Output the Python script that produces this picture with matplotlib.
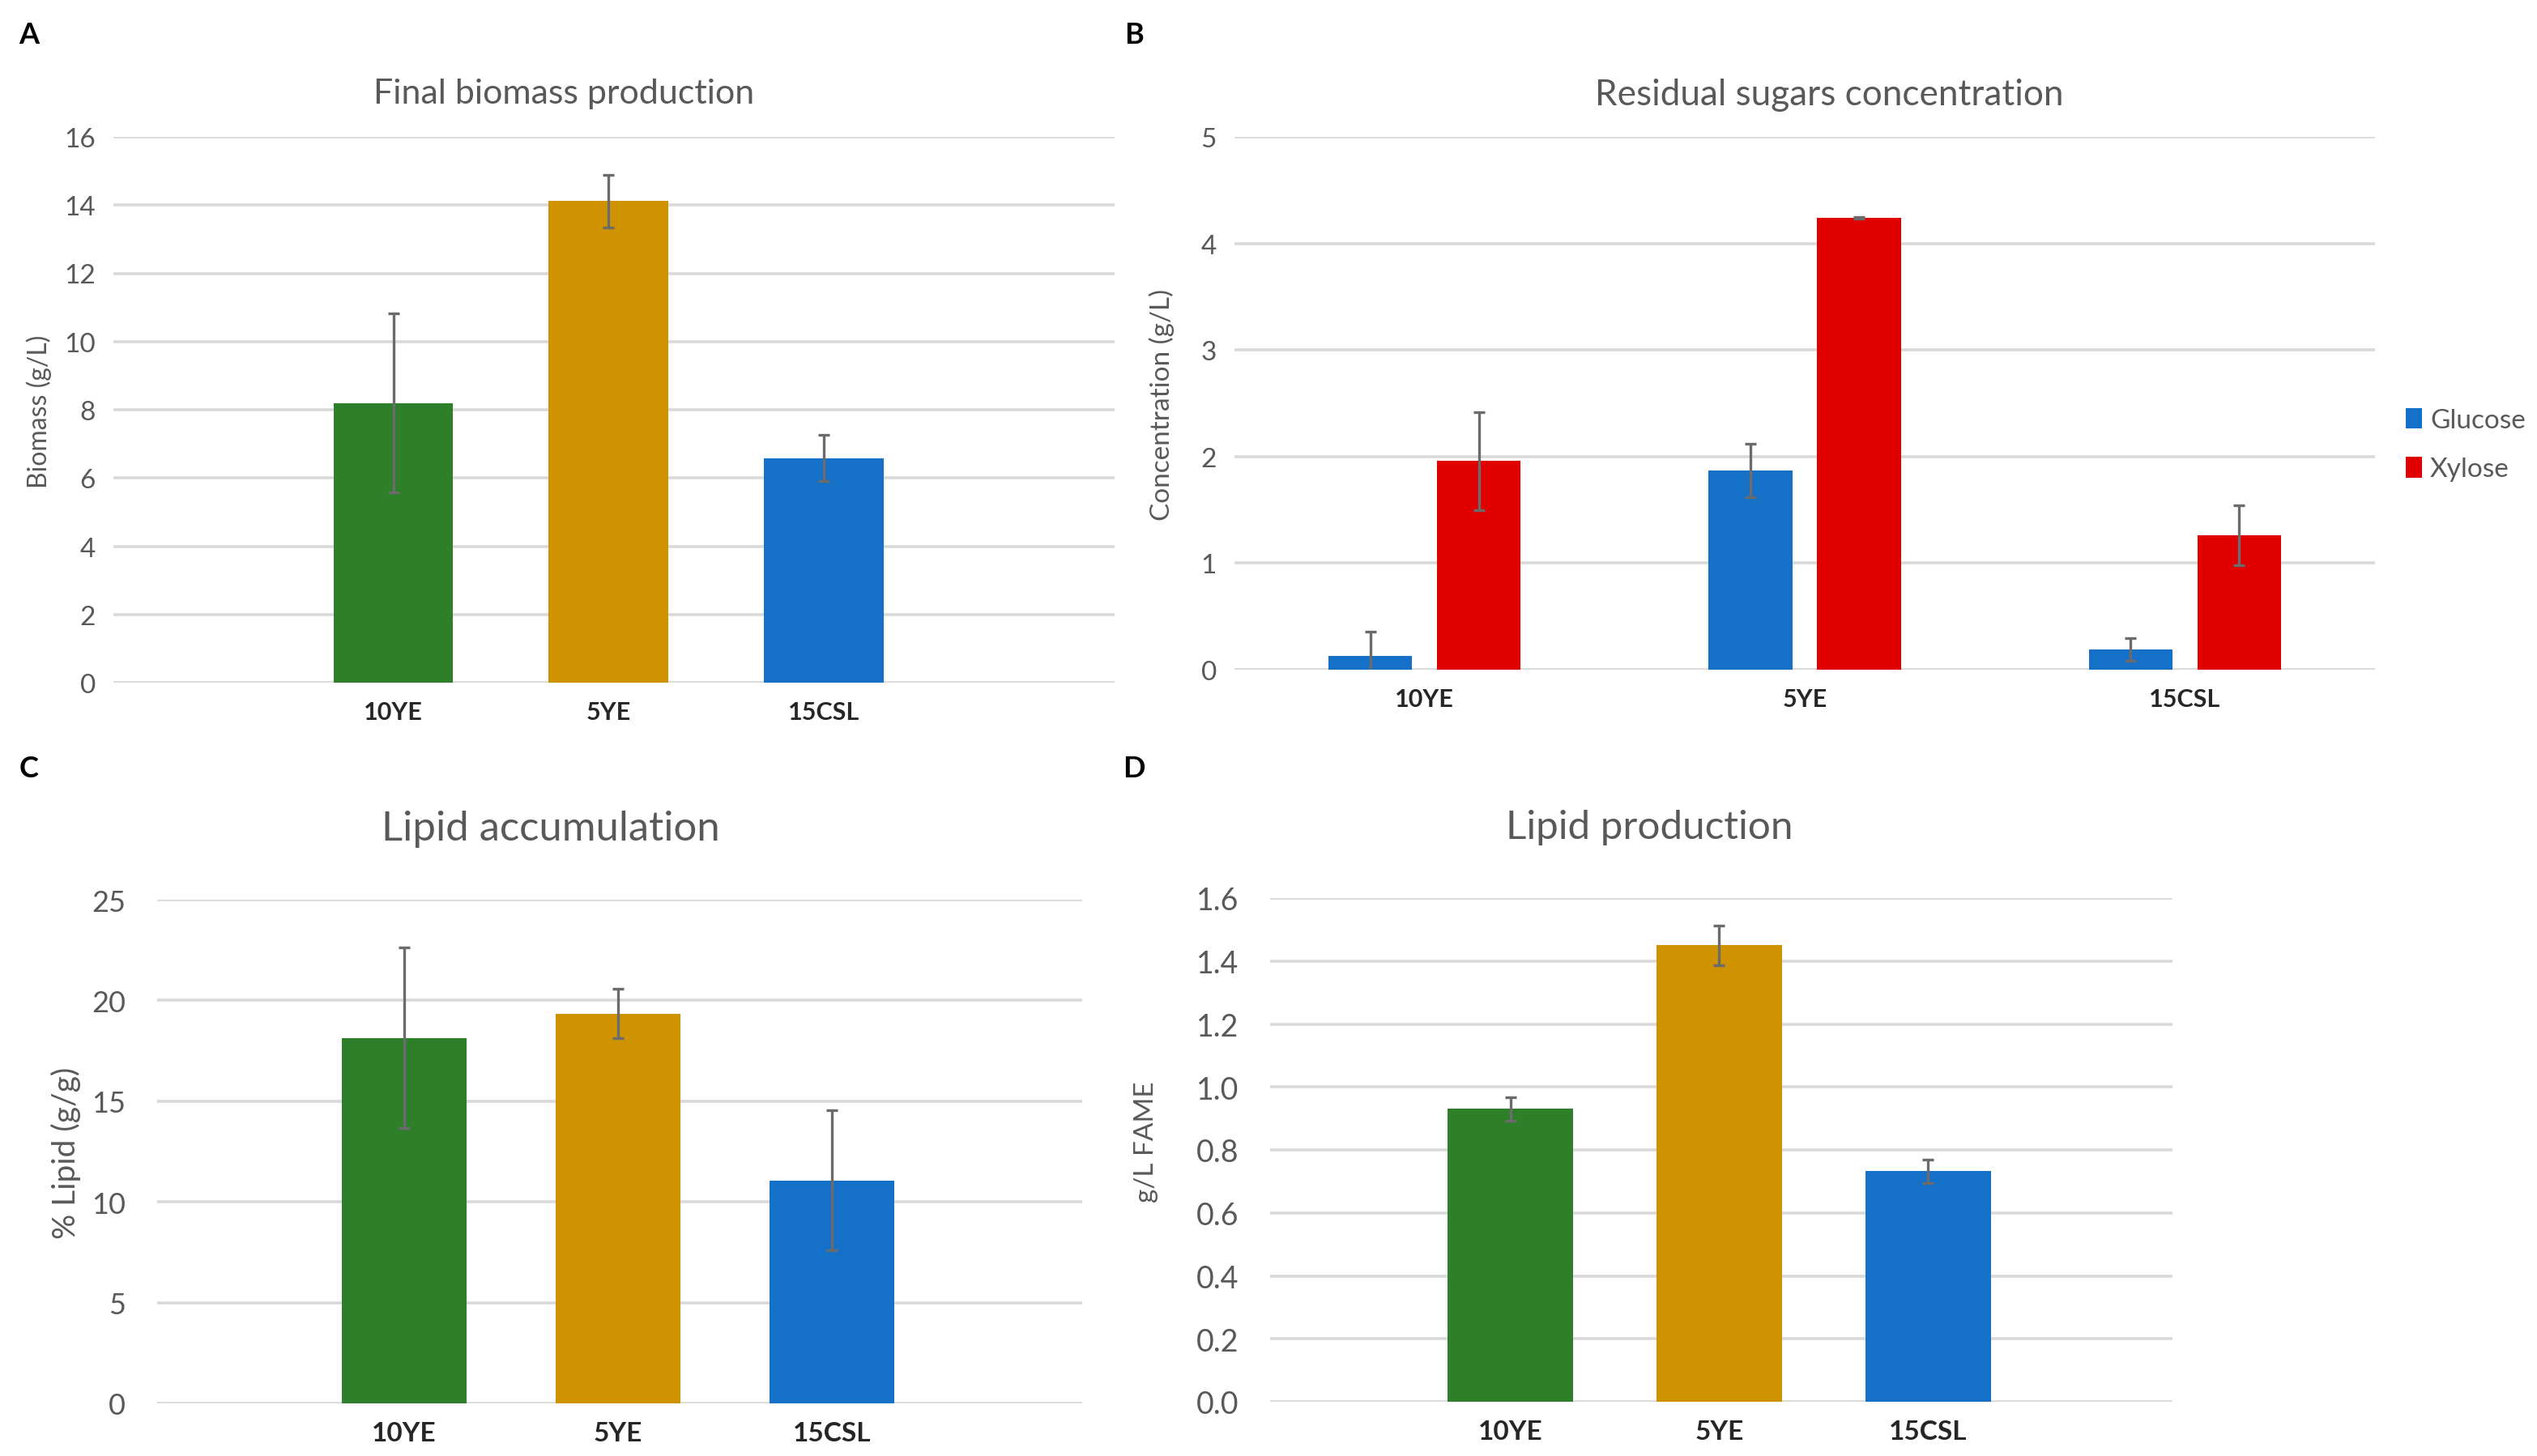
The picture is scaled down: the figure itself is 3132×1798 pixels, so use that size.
import matplotlib.pyplot as plt
import numpy as np

plt.rcParams['font.family'] = ['Lato', 'DejaVu Sans']

# data
strains = ['10YE', '5YE', '15CSL']
bar_colors = ['#2e7f2a', '#cf9200', '#1570c8']

biomass = [8.2, 14.12, 6.58]
biomass_err = [2.62, 0.77, 0.68]

glucose = [0.13, 1.87, 0.19]
glucose_err = [0.23, 0.25, 0.11]
xylose = [1.96, 4.24, 1.26]
xylose_err = [0.46, 0.01, 0.28]

lipid_pct = [18.14, 19.35, 11.07]
lipid_pct_err = [4.47, 1.22, 3.49]

lipid_gl = [0.93, 1.45, 0.732]
lipid_gl_err = [0.037, 0.063, 0.037]

# layout in half-size pixel coords of the original
W, H = 1566, 899.5
def box(x0, y0, x1, y1):
    return [x0 / W, 1 - y1 / H, (x1 - x0) / W, (y1 - y0) / H]

fig = plt.figure(figsize=(15.66, 8.995), dpi=200)
txt = '#595959'
grid = '#d9d9d9'
ecol = '#6b6b6b'

def style(ax, ticks, ylabel, tsize, lsize, xsize, fmt, lab_xy, pad=8):
    ax.set_yticks(ticks)
    ax.set_yticklabels([fmt.format(t) for t in ticks], color=txt, fontsize=tsize)
    ax.set_ylim(ticks[0], ticks[-1])
    ax.yaxis.grid(True, color=grid, linewidth=1.3)
    ax.set_axisbelow(True)
    for s in ax.spines.values():
        s.set_visible(False)
    ax.tick_params(axis='both', length=0, pad=8)
    ax.tick_params(axis='y', pad=pad)
    ax.set_ylabel(ylabel, color=txt, fontsize=lsize)
    ax.yaxis.set_label_coords(lab_xy[0] / W, 1 - lab_xy[1] / H, transform=fig.transFigure)
    ax.set_xticks(range(len(strains)))
    ax.set_xticklabels(strains, fontsize=xsize, fontweight='bold', color='#262626')

def title(s, x, y, size):
    fig.text(x / W, 1 - y / H, s, color=txt, fontsize=size, ha='center', va='center')

ekw = dict(ecolor=ecol, elinewidth=1.2, capsize=2.5, capthick=1.2)

# A
axA = fig.add_axes(box(70, 85, 688, 422))
axA.bar(range(3), biomass, width=0.556, color=bar_colors, yerr=biomass_err, error_kw=ekw)
axA.set_xlim(-1.30, 3.35)
style(axA, list(range(0, 17, 2)), 'Biomass (g/L)', 12, 11.5, 11, '{:d}', (32, 254))
title('Final biomass production', 348, 58, 15.5)

# B
axB = fig.add_axes(box(762, 85, 1466, 414))
x = np.arange(3)
axB.bar(x - 0.143, glucose, width=0.22, color='#1570c8', label='Glucose',
        yerr=glucose_err, error_kw=ekw)
axB.bar(x + 0.143, xylose, width=0.22, color='#e00000', label='Xylose',
        yerr=xylose_err, error_kw=ekw)
axB.set_xlim(-0.5, 2.5)
style(axB, list(range(0, 6)), 'Concentration (g/L)', 12, 12, 11, '{:d}', (725, 250))
title('Residual sugars concentration', 1129, 59, 15.9)
axB.legend(loc='center left', bbox_to_anchor=(1485 / W, 1 - 275 / H),
           bbox_transform=fig.transFigure, frameon=False, borderpad=0, borderaxespad=0,
           fontsize=12, handlelength=0.6, handleheight=0.8, handletextpad=0.3,
           labelcolor=txt, labelspacing=0.9)

# C
axC = fig.add_axes(box(97, 556, 668, 867))
axC.bar(range(3), lipid_pct, width=0.583, color=bar_colors, yerr=lipid_pct_err, error_kw=ekw)
axC.set_xlim(-1.155, 3.17)
style(axC, list(range(0, 26, 5)), '% Lipid (g/g)', 13, 14, 12, '{:d}', (50, 712), pad=14)
title('Lipid accumulation', 340, 512, 18.3)

# D
axD = fig.add_axes(box(784, 555, 1341, 866))
axD.bar(range(3), lipid_gl, width=0.6, color=bar_colors, yerr=lipid_gl_err, error_kw=ekw)
axD.set_xlim(-1.15, 3.17)
style(axD, [round(0.2 * i, 1) for i in range(9)], 'g/L FAME', 13.5, 12, 12, '{:.1f}', (715, 705), pad=14)
title('Lipid production', 1018, 511, 17.8)

# panel letters
for lab, (px, py) in zip('ABCD', [(18, 22), (700, 22), (18, 475), (700, 475)]):
    fig.text(px / W, 1 - py / H, lab, fontsize=13, fontweight='bold', va='center', ha='center')

fig.savefig('out.png', dpi=200, facecolor='white')
